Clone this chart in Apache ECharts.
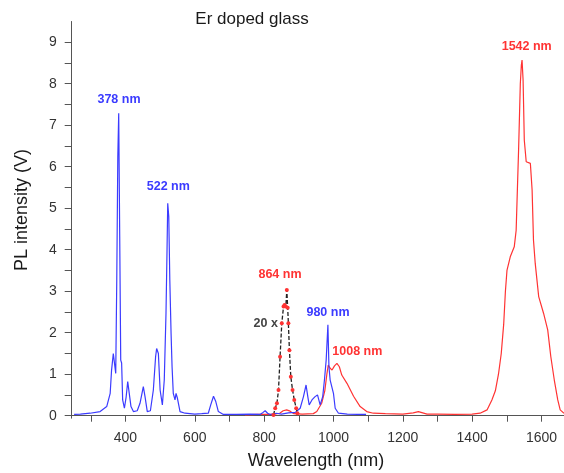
<!DOCTYPE html>
<html>
<head>
<meta charset="utf-8">
<script src="https://cdn.jsdelivr.net/npm/echarts@6/dist/echarts.min.js"></script>
<style>
html,body{margin:0;padding:0;background:#fff;}
#c{width:564px;height:473px;}
</style>
</head>
<body>
<div id="c"></div>
<script>
// ---- Data (wavelength in nm as drawn on the axis, PL intensity in V) ----
var blueWl = [252,270,298,327,346,356,360,365,368,372,375,378,380.6,383.5,386.4,389,392,397,402,406.6,411,416,423,434,442,451.6,456.5,463,472,480.5,487,490,495,500,506.5,512,517,520,522,525,528,531.6,534.5,538,543,546,550,557.5,572,600,620,639,646,654,660.6,668,682.5,720,760,788,797,803,810,817,835,850,870,890,904,913.5,921,926,930,938,947,954,961.6,969,974,979,984,987,990.5,995,1000,1005,1014.5,1040,1070,1094];
var blueV  = [0.03,0.04,0.06,0.10,0.22,0.54,1.10,1.50,1.54,1.02,3.27,6.24,7.29,4.31,1.34,1.27,0.38,0.18,0.45,0.82,0.78,0.22,0.10,0.12,0.30,0.70,0.46,0.10,0.12,0.62,1.42,1.62,1.50,0.62,0.26,0.86,2.47,4.00,5.12,4.80,3.27,1.99,1.18,0.54,0.38,0.54,0.42,0.10,0.06,0.04,0.05,0.06,0.26,0.47,0.34,0.10,0.03,0.03,0.04,0.03,0.08,0.12,0.06,0.03,0.06,0.04,0.07,0.08,0.18,0.46,0.74,0.46,0.26,0.38,0.46,0.50,0.26,0.46,0.86,1.34,2.19,1.18,0.86,0.82,0.54,0.18,0.06,0.04,0.03,0.03];

var redWl = [745,780,810,830,845,855,865,875,885,910,942,952,966,975,981,985,990,996,1003,1010,1017,1024,1039,1058,1077,1096,1115,1150,1200,1230,1245,1270,1300,1350,1400,1423,1443,1457,1467,1476,1484,1491,1496,1500.5,1510,1521.5,1527,1530,1534,1539,1542,1544,1547,1550.5,1556,1568,1573,1577,1582,1592,1606,1618,1627,1637,1647,1654,1665];
var redV  = [0.02,0.03,0.03,0.04,0.06,0.12,0.14,0.11,0.05,0.04,0.05,0.10,0.30,0.60,1.00,1.22,1.15,1.10,1.20,1.26,1.18,0.98,0.78,0.47,0.22,0.10,0.06,0.05,0.04,0.07,0.10,0.04,0.04,0.03,0.04,0.06,0.14,0.38,0.60,1.00,1.50,2.20,3.00,3.50,3.83,4.07,4.47,5.30,6.40,8.00,8.45,8.57,8.09,6.64,6.12,6.08,5.44,4.23,3.67,2.87,2.47,2.07,1.42,0.86,0.38,0.14,0.06];

var x20Wl = [827,832,837,841.5,846,851,856,859,862.6,865.5,868,870,873,877,882,887,892.5,896];
var x20V  = [0.02,0.18,0.30,0.62,1.42,2.23,2.63,2.67,2.63,3.03,2.60,2.23,1.58,0.94,0.62,0.38,0.18,0.06];

var xTickValues = [400,600,800,1000,1200,1400,1600];
var yTickValues = [0,1,2,3,4,5,6,7,8,9];

var peakLabels = ['378 nm','522 nm','980 nm','1008 nm','864 nm','20 x','1542 nm'];

function pairs(a,b){var o=[];for(var i=0;i<a.length;i++)o.push([a[i],b[i]]);return o;}

var FONT = '"Liberation Sans", Arial, sans-serif';
var BLUE = '#3b3bff', RED = '#ff3333';
var chart = echarts.init(document.getElementById('c'), null, {renderer:'canvas'});

chart.setOption({
  animation:false,
  backgroundColor:'#fff',
  grid:{left:71.7, top:21.5, width:492.3, height:396.7, containLabel:false},
  xAxis:{
    type:'value', min:245, max:1665, minInterval:100, maxInterval:100, splitNumber:14,
    axisLine:{lineStyle:{color:'#555', width:1}},
    axisTick:{show:true, inside:false, length:6, lineStyle:{color:'#555'}},
    axisLabel:{margin:13, color:'#333', fontFamily:FONT, fontSize:14, showMinLabel:false, showMaxLabel:false,
      formatter:function(v){return xTickValues.indexOf(Math.round(v))>=0 && Math.abs(v-Math.round(v))<1e-6 ? String(Math.round(v)) : '';}},
    splitLine:{show:false}
  },
  yAxis:{
    type:'value', min:-0.06, max:9.5, minInterval:0.5, maxInterval:0.5, splitNumber:19,
    axisLine:{show:true, lineStyle:{color:'#555', width:1}},
    axisTick:{show:true, inside:false, length:7, lineStyle:{color:'#555'}},
    axisLabel:{margin:15, color:'#333', fontFamily:FONT, fontSize:14, showMinLabel:false, showMaxLabel:false,
      formatter:function(v){var r=Math.round(v);return (Math.abs(v-r)<1e-6 && yTickValues.indexOf(r)>=0)? String(r):'';}},
    splitLine:{show:false}
  },
  series:[
    {type:'line', data:pairs(blueWl,blueV), showSymbol:false, symbol:'none', lineStyle:{color:BLUE, width:1.2}, z:3},
    {type:'line', data:pairs(redWl,redV), showSymbol:false, symbol:'none', lineStyle:{color:RED, width:1.2}, z:2},
    {type:'line', data:pairs(x20Wl,x20V), symbol:'circle', symbolSize:4, showSymbol:true,
      itemStyle:{color:RED, borderWidth:0}, lineStyle:{color:'#222', width:1.3, type:[4,2]}, z:4}
  ]
});

function txt(text, x, y, color, size, weight, rot){
  return {type:'text', x:x, y:y, rotation:rot||0, z:100,
    style:{text:text, fill:color, font:(weight||'normal')+' '+size+'px '+FONT,
      textAlign:'center', textVerticalAlign:'middle', align:'center', verticalAlign:'middle'}};
}
chart.setOption({graphic:[
  txt('Er doped glass', 252, 19, '#1a1a1a', 17, 'normal'),
  txt('Wavelength (nm)', 316, 461, '#1a1a1a', 18, 'normal'),
  txt('PL intensity (V)', 22, 210, '#1a1a1a', 18, 'normal', Math.PI/2),
  txt(peakLabels[0], 119, 100, BLUE, 12.5, 'bold'),
  txt(peakLabels[1], 168.3, 186.7, BLUE, 12.5, 'bold'),
  txt(peakLabels[2], 328, 313, BLUE, 12.5, 'bold'),
  txt(peakLabels[3], 357.3, 351.7, RED, 12.5, 'bold'),
  txt(peakLabels[4], 280, 275, RED, 12.5, 'bold'),
  txt(peakLabels[5], 265.7, 323.3, '#444', 12.5, 'bold'),
  txt(peakLabels[6], 526.7, 46.7, RED, 12.5, 'bold')
]});
</script>
</body>
</html>
